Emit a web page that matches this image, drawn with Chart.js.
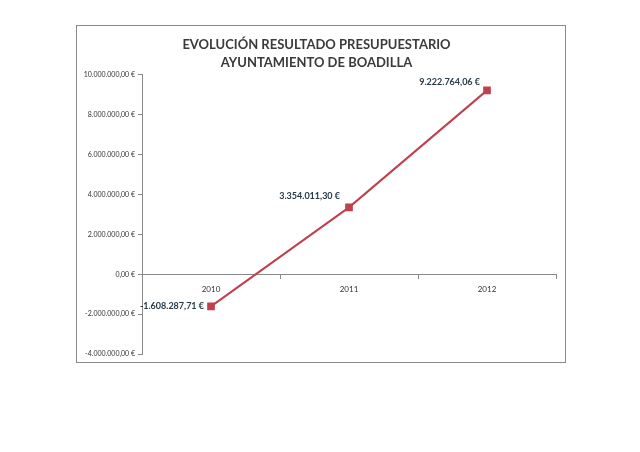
<!DOCTYPE html>
<html>
<head>
<meta charset="utf-8">
<script src="https://cdn.jsdelivr.net/npm/chart.js@4.4.1/dist/chart.umd.min.js"></script>
<style>
  html, body { margin: 0; padding: 0; background: #fff; }
  #box {
    position: absolute; left: 76px; top: 25px;
    width: 490px; height: 338px;
    border: 1px solid #8a8a8a;
    box-sizing: border-box;
  }
</style>
</head>
<body>
<div id="box"><canvas id="chart"></canvas></div>
<script>
// ---- data ----
const years = ['2010', '2011', '2012'];
const resultado = [-1608287.71, 3354011.30, 9222764.06];
const yTicks = [-4000000, -2000000, 0, 2000000, 4000000, 6000000, 8000000, 10000000];

// 1234567.8 -> "1.234.567,80 €"
function euro(v) {
    const neg = v < 0;
    const parts = Math.abs(v).toFixed(2).split('.');
    const ent = parts[0].replace(/\B(?=(\d{3})+(?!\d))/g, '.');
    return (neg ? '-' : '') + ent + ',' + parts[1] + ' €';
}

// labels next to each point (offsets in px from the marker)
const pointLabels = {
    id: 'pointLabels',
    afterDatasetsDraw(chart, args, opts) {
        const ctx = chart.ctx;
        const meta = chart.getDatasetMeta(0);
        ctx.save();
        ctx.font = 'bold 9px Lato, "Open Sans", sans-serif';
        ctx.fillStyle = '#243a48';
        ctx.textAlign = 'right';
        ctx.textBaseline = 'middle';
        meta.data.forEach((pt, i) => {
            const off = opts.offsets[i];
            ctx.fillText(euro(resultado[i]), pt.x + off[0], pt.y + off[1]);
        });
        ctx.restore();
    }
};

new Chart(document.getElementById('chart'), {
    type: 'line',
    data: {
        labels: years,
        datasets: [{
            data: resultado,
            borderColor: '#c0404d',
            backgroundColor: '#c0404d',
            borderWidth: 2,
            pointStyle: 'rect',
            pointRadius: 4,
            tension: 0
        }]
    },
    plugins: [pointLabels],
    options: {
        responsive: true,
        maintainAspectRatio: false,
        animation: false,
        layout: { padding: { left: 0, right: 9, top: 0, bottom: 8 } },
        plugins: {
            legend: { display: false },
            tooltip: { enabled: false },
            title: {
                display: true,
                text: ['EVOLUCIÓN RESULTADO PRESUPUESTARIO', 'AYUNTAMIENTO DE BOADILLA'],
                color: '#3a3a3a',
                font: { family: 'Lato, "Open Sans", sans-serif', size: 13, weight: 'bold', lineHeight: 1.38 },
                padding: { top: 10, bottom: 3 }
            },
            pointLabels: { offsets: [[-7, 0], [-9, -11], [-7, -8]] }
        },
        scales: {
            x: {
                position: { y: 0 },
                offset: true,
                border: { color: '#8a8a8a', width: 1 },
                grid: { offset: true, drawOnChartArea: false, tickLength: 4, color: '#8a8a8a' },
                ticks: { color: '#333', padding: 6, font: { family: 'Lato, sans-serif', size: 8 } }
            },
            y: {
                min: -4000000,
                max: 10000000,
                afterBuildTicks: s => { s.ticks = yTicks.map(v => ({ value: v })); },
                afterFit: s => { s.width = 65; },
                border: { color: '#8a8a8a', width: 1 },
                grid: { drawOnChartArea: false, tickLength: 4, color: '#8a8a8a' },
                ticks: { color: '#333', padding: 3, font: { family: 'Lato, sans-serif', size: 7 }, callback: v => euro(v) }
            }
        }
    }
});
</script>
</body>
</html>
